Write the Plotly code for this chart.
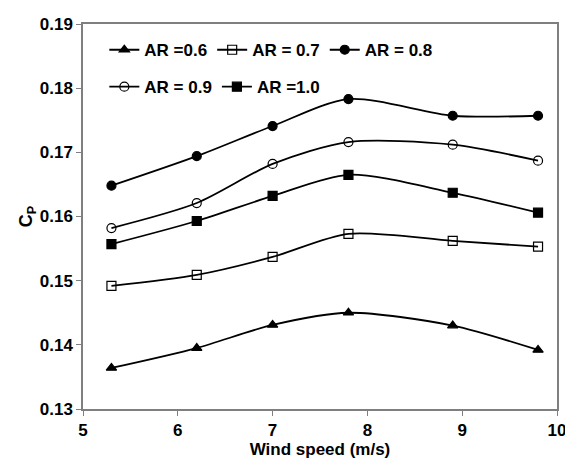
import plotly.graph_objects as go

wind = [5.3, 6.2, 7.0, 7.8, 8.9, 9.8]
cp_06 = [0.1364, 0.1395, 0.1431, 0.1450, 0.1430, 0.1392]
cp_07 = [0.1492, 0.1509, 0.1537, 0.1573, 0.1562, 0.1553]
cp_08 = [0.1648, 0.1694, 0.1741, 0.1783, 0.1757, 0.1757]
cp_09 = [0.1582, 0.1621, 0.1682, 0.1716, 0.1712, 0.1687]
cp_10 = [0.1557, 0.1593, 0.1632, 0.1665, 0.1637, 0.1606]

series = [
    ("AR =0.6", cp_06, "triangle-up", "legend"),
    ("AR = 0.7", cp_07, "square-open", "legend"),
    ("AR = 0.8", cp_08, "circle", "legend"),
    ("AR = 0.9", cp_09, "circle-open", "legend2"),
    ("AR =1.0", cp_10, "square", "legend2"),
]

FONT = "Arial, Liberation Sans, sans-serif"
fig = go.Figure()
for name, ys, sym, lg in series:
    fig.add_trace(go.Scatter(
        x=wind, y=ys, name=name, mode="lines+markers",
        line=dict(color="black", width=1.8, shape="spline", smoothing=0.8),
        marker=dict(symbol=sym, size=9, color="black",
                    line=dict(color="black", width=1.2)),
        legend=lg,
    ))

legend_common = dict(orientation="h", xanchor="left", yanchor="middle",
                     font=dict(family=FONT, size=17, color="black", weight="bold"),
                     bgcolor="rgba(0,0,0,0)", itemwidth=30, tracegroupgap=0)
fig.update_layout(
    width=565, height=468,
    margin=dict(l=83, r=8, t=24, b=59),
    paper_bgcolor="white", plot_bgcolor="white",
    font=dict(family=FONT, size=16, color="black"),
    legend=dict(x=0.045, y=0.932, **legend_common),
    legend2=dict(x=0.045, y=0.836, **legend_common),
    xaxis=dict(range=[5, 10], dtick=1, tick0=5, showgrid=False, zeroline=False,
               automargin=False, ticklabeloverflow="allow",
               showline=True, linecolor="#7f7f7f", linewidth=1.5, mirror=True,
               ticks="outside", ticklen=5, tickcolor="#7f7f7f",
               tickfont=dict(family=FONT, size=17, color="black", weight="bold"),
               title=dict(text="Wind speed (m/s)", standoff=4,
                          font=dict(family=FONT, size=17, color="black", weight="bold"))),
    yaxis=dict(range=[0.13, 0.19], dtick=0.01, tickformat=".2f", showgrid=False,
               zeroline=False, showline=True, linecolor="#7f7f7f", linewidth=1.5,
               automargin=False, ticklabeloverflow="allow",
               mirror=True, ticks="outside", ticklen=5, tickcolor="#7f7f7f",
               tickfont=dict(family=FONT, size=17, color="black", weight="bold"),
               title=dict(text="C<sub>P</sub>", standoff=2,
                          font=dict(family=FONT, size=18, color="black", weight="bold"))),
)
fig.write_html("out.html")
